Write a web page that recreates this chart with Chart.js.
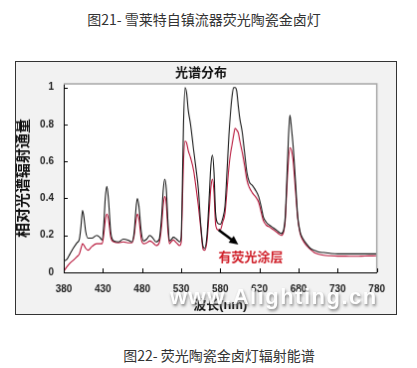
<!DOCTYPE html>
<html>
<head>
<meta charset="utf-8">
<script src="https://cdn.jsdelivr.net/npm/chart.js@4.4.0/dist/chart.umd.min.js"></script>
<style>
  body { margin: 0; background: #fff; width: 417px; height: 368px; overflow: hidden; position: relative;
         font-family: "Noto Sans CJK SC", sans-serif; }
  .cap { position: absolute; left: 0; font-size: 14px; color: #333; text-align: center; line-height: 20px; }
  #chart { position: absolute; left: 15px; top: 61px; border: 1px solid #333; background: #f2f2f2; }
  #mark { position: absolute; left: 170px; top: 284px; font: bold 22px "Liberation Sans", sans-serif;
          letter-spacing: 1.5px; color: #fff; text-shadow: 1px 2px 3px #777; opacity: 0.9; }
</style>
</head>
<body>
<div class="cap" style="top:9px;width:408px;">图21- 雪莱特自镇流器荧光陶瓷金卤灯</div>
<canvas id="chart" width="382" height="254"></canvas>
<div id="mark">www.Alighting.cn</div>
<div class="cap" style="top:345px;width:438px;">图22- 荧光陶瓷金卤灯辐射能谱</div>
<script>
// wavelength (nm)
const wavelengths = [380, 384, 388, 392, 397, 400, 402, 404, 406, 408, 411, 416, 422, 426, 429, 431, 433, 435, 437, 440,
  444, 450, 456, 462, 467, 470, 472, 474, 476, 479, 482, 486, 490, 494, 498, 502, 505, 507, 509, 511,
  513, 515, 518, 520, 524, 528, 530, 531, 533, 535, 537, 539, 542, 546, 549, 552, 555, 558, 560, 563,
  566, 568, 570, 572, 574, 577, 580, 583, 586, 589, 591, 593, 595, 597, 599, 601, 603, 605, 608, 611,
  614, 617, 621, 625, 629, 632, 635, 639, 643, 648, 653, 658, 661, 663, 665, 667, 669, 671, 673, 676,
  679, 682, 686, 690, 695, 700, 706, 712, 720, 730, 740, 750, 760, 770, 780];
// black curve
const bareLamp = [0.06, 0.07, 0.10, 0.13, 0.16, 0.18, 0.25, 0.335, 0.29, 0.22, 0.185, 0.185, 0.20, 0.19, 0.175, 0.25, 0.40, 0.465, 0.40, 0.22,
  0.17, 0.165, 0.18, 0.175, 0.165, 0.22, 0.33, 0.40, 0.36, 0.22, 0.17, 0.18, 0.20, 0.185, 0.165, 0.18, 0.30, 0.44, 0.505, 0.45,
  0.28, 0.17, 0.18, 0.19, 0.18, 0.165, 0.19, 0.35, 0.80, 1.00, 0.97, 0.88, 0.80, 0.66, 0.56, 0.45, 0.26, 0.14, 0.13, 0.20,
  0.42, 0.58, 0.635, 0.54, 0.32, 0.265, 0.26, 0.29, 0.36, 0.58, 0.74, 0.86, 0.95, 1.00, 1.00, 0.98, 0.90, 0.83, 0.76, 0.65,
  0.54, 0.49, 0.47, 0.445, 0.41, 0.36, 0.30, 0.27, 0.255, 0.24, 0.225, 0.21, 0.23, 0.30, 0.50, 0.72, 0.85, 0.78, 0.69, 0.50,
  0.30, 0.22, 0.18, 0.155, 0.13, 0.12, 0.11, 0.107, 0.103, 0.10, 0.10, 0.10, 0.10, 0.10, 0.10];
// red curve (有荧光涂层)
const coatedLamp = [0.005, 0.03, 0.05, 0.065, 0.085, 0.10, 0.13, 0.155, 0.145, 0.13, 0.12, 0.14, 0.155, 0.155, 0.155, 0.20, 0.28, 0.315, 0.29, 0.19,
  0.165, 0.16, 0.165, 0.16, 0.16, 0.20, 0.27, 0.315, 0.29, 0.18, 0.155, 0.16, 0.17, 0.16, 0.145, 0.16, 0.25, 0.36, 0.41, 0.37,
  0.23, 0.155, 0.17, 0.175, 0.16, 0.145, 0.16, 0.28, 0.60, 0.71, 0.70, 0.66, 0.62, 0.55, 0.46, 0.36, 0.24, 0.125, 0.12, 0.17,
  0.34, 0.46, 0.505, 0.43, 0.26, 0.23, 0.23, 0.27, 0.32, 0.47, 0.57, 0.64, 0.69, 0.74, 0.78, 0.77, 0.755, 0.71, 0.65, 0.58,
  0.50, 0.46, 0.43, 0.41, 0.38, 0.33, 0.28, 0.255, 0.245, 0.23, 0.215, 0.20, 0.22, 0.28, 0.45, 0.60, 0.675, 0.66, 0.61, 0.45,
  0.29, 0.21, 0.17, 0.145, 0.125, 0.107, 0.098, 0.093, 0.09, 0.088, 0.088, 0.087, 0.088, 0.089, 0.09];
const xTicks = [380, 430, 480, 530, 580, 630, 680, 730, 780];
const yTicks = [0, 0.2, 0.4, 0.6, 0.8, 1];
// annotation: arrow from / to (nm, value), label position
const arrowFrom = [578, 0.23];
const arrowTo = [603, 0.15];
const noteAt = [619, 0.085];
const noteText = '有荧光涂层';

const font = '"Liberation Sans", "Noto Sans CJK SC", sans-serif';

const decor = {
  id: 'decor',
  beforeDraw(chart) {
    const a = chart.chartArea, ctx = chart.ctx;
    ctx.save();
    ctx.fillStyle = '#fff';
    ctx.fillRect(a.left, a.top, a.right - a.left, a.bottom - a.top);
    ctx.restore();
  },
  afterDraw(chart) {
    const a = chart.chartArea, ctx = chart.ctx;
    const x = chart.scales.x, y = chart.scales.y;
    ctx.save();
    // light frame top / right
    ctx.strokeStyle = '#a8a8a8';
    ctx.lineWidth = 1.5;
    ctx.beginPath();
    ctx.moveTo(a.left, a.top);
    ctx.lineTo(a.right, a.top);
    ctx.lineTo(a.right, a.bottom);
    ctx.stroke();
    // inward ticks
    ctx.strokeStyle = '#000';
    ctx.lineWidth = 1;
    ctx.beginPath();
    xTicks.forEach(v => {
      const px = Math.round(x.getPixelForValue(v)) + 0.5;
      ctx.moveTo(px, a.bottom);
      ctx.lineTo(px, a.bottom - 4);
    });
    yTicks.forEach(v => {
      const py = Math.round(y.getPixelForValue(v)) + 0.5;
      ctx.moveTo(a.left, py);
      ctx.lineTo(a.left + 4, py);
    });
    ctx.stroke();
    // arrow
    const x1 = x.getPixelForValue(arrowFrom[0]), y1 = y.getPixelForValue(arrowFrom[1]);
    const x2 = x.getPixelForValue(arrowTo[0]), y2 = y.getPixelForValue(arrowTo[1]);
    const ang = Math.atan2(y2 - y1, x2 - x1);
    ctx.strokeStyle = '#000';
    ctx.fillStyle = '#000';
    ctx.lineWidth = 2.5;
    ctx.beginPath();
    ctx.moveTo(x1, y1);
    ctx.lineTo(x2 - 6 * Math.cos(ang), y2 - 6 * Math.sin(ang));
    ctx.stroke();
    ctx.beginPath();
    ctx.moveTo(x2, y2);
    ctx.lineTo(x2 - 10 * Math.cos(ang - 0.45), y2 - 10 * Math.sin(ang - 0.45));
    ctx.lineTo(x2 - 10 * Math.cos(ang + 0.45), y2 - 10 * Math.sin(ang + 0.45));
    ctx.closePath();
    ctx.fill();
    // note
    ctx.fillStyle = '#d0202a';
    ctx.font = 'bold 13px "Noto Sans CJK SC", sans-serif';
    ctx.textAlign = 'center';
    ctx.textBaseline = 'middle';
    ctx.fillText(noteText, x.getPixelForValue(noteAt[0]), y.getPixelForValue(noteAt[1]));
    ctx.restore();
  }
};

new Chart(document.getElementById('chart'), {
  type: 'line',
  data: {
    datasets: [{
      label: '无荧光涂层',
      data: wavelengths.map((w, i) => ({ x: w, y: bareLamp[i] })),
      borderColor: '#1a1a1a',
      borderWidth: 1.1,
      pointRadius: 0,
      cubicInterpolationMode: 'monotone'
    }, {
      label: noteText,
      data: wavelengths.map((w, i) => ({ x: w, y: coatedLamp[i] })),
      borderColor: '#b8163a',
      borderWidth: 1.1,
      pointRadius: 0,
      cubicInterpolationMode: 'monotone'
    }]
  },
  options: {
    responsive: false,
    animation: false,
    devicePixelRatio: 1,
    layout: { padding: { left: 0, right: 10, top: 0, bottom: 0 } },
    plugins: {
      legend: { display: false },
      tooltip: { enabled: false },
      title: {
        display: true,
        text: '光谱分布',
        color: '#111',
        font: { family: font, size: 13, weight: 'bold' },
        padding: { top: 3.5, bottom: 2.9 }
      }
    },
    scales: {
      x: {
        type: 'linear',
        min: 380,
        max: 780,
        afterFit(s) { s.height = 42; },
        afterBuildTicks(s) { s.ticks = xTicks.map(v => ({ value: v })); },
        grid: { display: true, drawOnChartArea: false, drawTicks: false },
        border: { color: '#000', width: 1 },
        ticks: { color: '#222', padding: 11, maxRotation: 0, font: { family: font, size: 10, weight: 'bold' } },
        title: {
          display: true,
          text: '波长(nm)',
          color: '#111',
          font: { family: font, size: 13, weight: 'bold' },
          padding: { top: 0, bottom: 1.2 }
        }
      },
      y: {
        min: 0,
        max: 1.02,
        afterFit(s) { s.width = 48; },
        afterBuildTicks(s) { s.ticks = yTicks.map(v => ({ value: v })); },
        grid: { display: true, drawOnChartArea: false, drawTicks: false },
        border: { color: '#000', width: 1 },
        ticks: {
          color: '#222',
          padding: 10,
          font: { family: font, size: 10, weight: 'bold' },
          callback: v => String(v)
        },
        title: {
          display: true,
          text: '相对光谱辐射通量',
          color: '#111',
          font: { family: font, size: 15, weight: 'bold', lineHeight: 1 },
          padding: { top: 0, bottom: 0 }
        }
      }
    }
  },
  plugins: [decor]
});
</script>
</body>
</html>
